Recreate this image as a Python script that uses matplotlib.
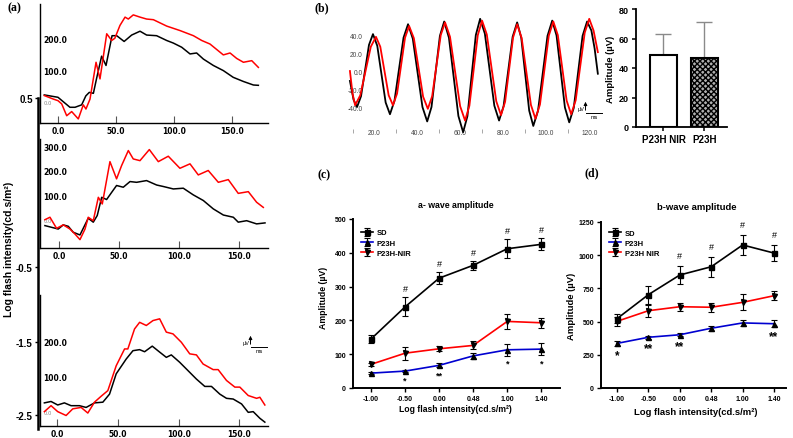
import matplotlib
matplotlib.use('Agg')
import matplotlib.pyplot as plt
from matplotlib.lines import Line2D
from matplotlib.patches import FancyArrowPatch

plt.rcParams['font.family'] = ['Liberation Sans', 'DejaVu Sans']

# ---------------- panel (a): ERG traces, three flash levels (ms, uV) ----------------
top_t_black = [-11.8, 0, 10.3, 14.7, 20.4, 24, 27, 30.5, 33, 37.6, 41.4, 46.6, 50.6, 57, 63.5,
               70.7, 76.4, 85, 93.7, 99.4, 106.6, 113.8, 119.5, 125.3, 133.9, 142.5, 151, 159.8, 168.4, 172.7]
top_v_black = [23, 15.6, -15.6, -15.6, -8, 20, 31, 28, 70, 144, 115, 208, 208, 190, 210,
               222, 210, 208, 193, 185, 172, 151, 154, 135, 115, 99, 78, 65, 54, 53]
top_t_red = [-11.8, -4, 0, 3.2, 7.5, 11.8, 17.5, 21.8, 24.1, 27.6, 32.8, 36.2, 42, 46.3, 49, 53.4,
             57.8, 60.6, 64.9, 70.7, 76.4, 82.2, 93.7, 105.2, 116.7, 123.9, 131, 142.5, 148.3, 154,
             159.8, 167, 172.7]
top_v_red = [21, 10, 5, -5, -42, -29, -52, -8, -21, 10, 125, 73, 214, 193, 200, 240,
             266, 260, 273, 266, 260, 258, 238, 224, 208, 193, 182, 148, 154, 137,
             125, 130, 109]

mid_t_black = [-11.7, -6.1, -0.6, 3.6, 7.8, 11.9, 17.5, 24.4, 28.6, 31.9, 35.6, 39.7, 43.9, 48, 53.6,
               59.2, 64.7, 73, 81.4, 86.9, 95.3, 103.6, 111.9, 120.3, 128.6, 137, 145.3, 149.4, 156.4,
               164.7, 171.7]
mid_v_black = [-23, -30, -37, -20, -26, -50, -61, 7, -9, 18, 92, 83, 112, 140, 133,
               156, 153, 160, 142, 136, 126, 129, 102, 79, 45, 20, 11, -9, -3,
               -16, -12]
mid_t_red = [-11.7, -7.5, -2, 3.6, 9.2, 13.3, 17.5, 21.7, 24.4, 28.6, 32.8, 36.1, 42.5, 48, 52.2,
             57.8, 61.9, 67.5, 75.3, 82.8, 91.1, 100.8, 109.2, 116.1, 124.4, 132.8, 141.1, 149.4,
             157.8, 164.7, 170.3]
mid_v_red = [1, 11, -34, -20, -37, -57, -80, -37, 11, -3, 92, 65, 237, 167, 221,
             282, 248, 241, 286, 237, 259, 210, 228, 183, 201, 153, 164, 108,
             115, 72, 51]

bot_t_black = [-10.7, -5.2, 0.3, 5.8, 11.3, 18.2, 23.7, 30.6, 37.5, 43, 48.5, 56.7, 62.3, 67.8, 71.9,
               78.2, 84.3, 89.8, 93.9, 100.8, 107.7, 114.6, 121.5, 127, 133.9, 139.4, 144.9, 151.8,
               157.3, 161.4, 166.9, 171]
bot_v_black = [25, 29, 19, 25, 17, 17, 12, 25, 27, 50, 108, 150, 174, 177, 171,
               187, 170, 155, 162, 141, 117, 93, 72, 72, 50, 38, 36, 22,
               -2, 0, -19, -30]
bot_t_red = [-10.7, -5.2, 0.3, 7.2, 12.7, 19.6, 25.1, 30.6, 36.1, 41.6, 48.5, 55.4, 58.1, 63.6, 67.8,
             73.3, 78.8, 84.3, 89.8, 95.3, 102.2, 109.1, 114.6, 120.1, 128.4, 132.5, 139.4, 146.3,
             150.4, 157.3, 164.2, 166.9, 171]
bot_v_red = [0, 17, 0, -11, 8, 12, -4, 27, 44, 60, 131, 179, 179, 236, 255,
             246, 260, 265, 227, 222, 198, 165, 162, 136, 120, 120, 89, 70,
             70, 46, 38, 41, 19]

log_labels = ['0.5', '-0.5', '-1.5', '-2.5']

# ---------------- panel (b): flicker traces + bar chart ----------------
flk_t_black = [8.8, 10.5, 12.1, 13.95, 15.8, 17.65, 19.5, 21.5, 23.45, 25.4, 27.4, 29.5, 31.6, 33.7,
               35.8, 38.0, 40.25, 42.5, 44.7, 46.7, 48.65, 50.6, 52.6, 54.8, 57.0, 59.2, 61.4, 63.4,
               65.35, 67.3, 69.3, 71.5, 73.7, 75.9, 78.1, 80.2, 82.3, 84.4, 86.5, 88.4, 90.25, 92.1,
               94.0, 96.2, 98.4, 100.6, 102.8, 104.8, 106.75, 108.7, 110.7, 112.8, 114.85, 116.9,
               119.0, 121.0, 122.5, 124.0]
flk_v_black = [-11, -32, -40, -28, 0.5, 29, 41, 28, -3.5, -35, -48, -33, 2, 37,
               52, 36, -2, -40, -56, -40, -0.5, 39, 55, 37, -6.5, -50, -68, -50,
               -5, 40, 58, 41.5, 1.5, -38.5, -55, -39, -0.5, 38, 54, 37, -3.5, -44,
               -61, -44, -2.5, 39, 56, 39.5, -0.5, -40.5, -57, -41, -1, 39,
               55, 45, 25, -3]
flk_t_red = [8.8, 10.0, 11.2, 13.6, 16.05, 18.5, 20.9, 22.9, 24.85, 26.8, 28.8, 30.7, 32.55, 34.4,
             36.3, 38.5, 40.65, 42.8, 45.0, 47.0, 49.0, 51.0, 53.0, 55.3, 57.65, 60.0, 62.3, 64.3,
             66.25, 68.2, 70.2, 72.4, 74.6, 76.8, 79.0, 80.9, 82.75, 84.6, 86.5, 88.6, 90.75, 92.9,
             95.0, 97.1, 99.15, 101.2, 103.3, 105.4, 107.45, 109.5, 111.6, 113.7, 115.8, 117.9,
             120.0, 122.0, 124.0]
flk_v_red = [0, -25, -38, -27, 0, 27, 38, 27, 0, -27, -38, -25, 6, 37,
             50, 36.5, 4, -28.5, -42, -28, 6, 40, 54, 38, -0.5, -39, -55, -38.7,
             0.5, 39.7, 56, 40.6, 3.5, -33.6, -49, -34.2, 1.5, 37.2, 52, 36.6, -0.5, -37.6,
             -53, -37.2, 1, 39.2, 55, 39.9, 3.5, -32.9, -48, -32.5, 5, 42.5,
             58, 45, 21]

bar_labels = ['P23H NIR', 'P23H']
bar_means = [48.5, 47]
bar_err = [14.5, 24]

# ---------------- panels (c) and (d) ----------------
log_levels = ['-1.00', '-0.50', '0.00', '0.48', '1.00', '1.40']

a_sd = [145, 240, 325, 363, 412, 425]
a_sd_err = [12, 28, 17, 13, 28, 18]
a_p23h = [44, 50, 67, 95, 113, 115]
a_p23h_err = [3, 4, 6, 8, 17, 18]
a_nir = [70, 103, 116, 126, 197, 193]
a_nir_err = [4, 19, 8, 12, 22, 15]
a_hash = ['', '#', '#', '#', '#', '#']
a_star = ['', '*', '**', '', '*', '*']

b_sd = [522, 703, 851, 913, 1077, 1016]
b_sd_err = [32, 68, 68, 75, 75, 63]
b_p23h = [336, 382, 401, 450, 490, 484]
b_p23h_err = [20, 12, 12, 20, 25, 25]
b_nir = [502, 582, 612, 608, 645, 695]
b_nir_err = [35, 45, 30, 35, 60, 35]
b_hash = ['', '', '#', '#', '#', '#']
b_star = ['*', '**', '**', '', '', '**']

W, H = 793, 439
fig = plt.figure(figsize=(W / 100, H / 100), dpi=100)


def box(x0, y0, x1, y1):
    return [x0 / W, 1 - y1 / H, (x1 - x0) / W, (y1 - y0) / H]


def fx(x):
    return x / W


def fy(y):
    return 1 - y / H


def scale_mark(x, y):
    fig.add_artist(Line2D([fx(x), fx(x + 16)], [fy(y), fy(y)], color='black', lw=0.7))
    fig.add_artist(FancyArrowPatch((fx(x), fy(y)), (fx(x), fy(y - 14)), transform=fig.transFigure,
                                   arrowstyle='-|>', mutation_scale=5, lw=0.7, color='black'))
    fig.text(fx(x - 1), fy(y - 2), 'µV', fontsize=4, ha='right', va='bottom')
    fig.text(fx(x + 9), fy(y + 1), 'ms', fontsize=4, ha='center', va='top')


def erg_axes(rect, xlim, ylim, yticks, tk, vk, tr, vr):
    ax = fig.add_axes(box(*rect))
    ax.patch.set_alpha(0)
    ax.plot(tk, vk, color='black', lw=1.1)
    ax.plot(tr, vr, color='red', lw=1.1)
    ax.set_xlim(xlim)
    ax.set_ylim(ylim)
    ax.spines[['top', 'right']].set_visible(False)
    ax.spines[['left', 'bottom']].set_linewidth(1.0)
    ax.set_xticks([0, 50, 100, 150], labels=['0.0', '50.0', '100.0', '150.0'])
    ax.tick_params(axis='x', direction='in', length=5, width=0.8, color='#555', pad=2)
    ax.set_yticks(yticks, labels=[f'{v:.1f}' for v in yticks])
    ax.tick_params(axis='y', length=0, pad=-2.5)
    for lbl in ax.get_xticklabels() + ax.get_yticklabels():
        lbl.set_family('DejaVu Sans')
        lbl.set_fontweight('bold')
        lbl.set_fontsize(5.5)
    for lbl in ax.get_yticklabels():
        lbl.set_ha('left')
    zero = ax.get_yticklabels()[0]
    zero.set_fontsize(3.8)
    zero.set_color('#888')
    zero.set_fontweight('normal')
    return ax


# ===== panel (a) =====
erg_axes((40, 5, 268, 124), (-15.5, 181), (-64.7, 307), [0, 100, 200],
         top_t_black, top_v_black, top_t_red, top_v_red)
erg_axes((40, 140, 268, 249), (-15.8, 174.2), (-114, 329), [0, 100, 200, 300],
         mid_t_black, mid_v_black, mid_t_red, mid_v_red)
erg_axes((40, 296, 268, 427), (-14.3, 173.6), (-41, 333), [0, 100, 200],
         bot_t_black, bot_v_black, bot_t_red, bot_v_red)

axl = fig.add_axes(box(37.5, 0, 39, H))
axl.patch.set_alpha(0)
axl.set_ylim(H, 0)
axl.set_xticks([])
axl.spines[['top', 'right', 'bottom']].set_visible(False)
axl.spines['left'].set_linewidth(1.8)
axl.spines['left'].set_bounds(99, 430)
axl.set_yticks([99, 268, 343, 416], labels=log_labels)
axl.tick_params(axis='y', length=2.5, width=1, pad=1, labelsize=7)
for lbl in axl.get_yticklabels():
    lbl.set_fontweight('bold')
fig.text(fx(9), fy(249), 'Log flash intensity(cd.s/m²)', rotation=90, fontsize=7.5,
         fontweight='bold', ha='center', va='center')
scale_mark(250.5, 348)

# ===== panel (b) traces =====
axb = fig.add_axes(box(331, 10, 600, 130))
axb.patch.set_alpha(0)
axb.plot(flk_t_black, flk_v_black, color='black', lw=1.3, clip_on=False)
axb.plot(flk_t_red, flk_v_red, color='red', lw=1.3, clip_on=False)
axb.set_xlim(0, 125)
axb.set_ylim(-64.4, 68.9)
for s in axb.spines.values():
    s.set_visible(False)
axb.set_xticks([20, 40, 60, 80, 100, 120], labels=['20.0', '40.0', '60.0', '80.0', '100.0', '120.0'])
axb.set_xticks([10, 30, 50, 70, 90, 110], minor=True)
axb.tick_params(axis='x', which='major', length=0, pad=0, labelsize=4.8, labelcolor='#444')
axb.tick_params(axis='x', which='minor', length=3, width=0.6, color='#999', direction='out')
axb.set_yticks([-40, -20, 0, 20, 40], labels=['-40.0', '-20.0', '0.0', '20.0', '40.0'])
axb.tick_params(axis='y', length=0, pad=-23, labelsize=4.8, labelcolor='#444')
scale_mark(585.5, 114)

# ===== panel (b) bars =====
axbar = fig.add_axes(box(636, 10, 727, 128))
xpos = list(range(len(bar_means)))
axbar.errorbar(xpos, bar_means, yerr=[[0] * len(bar_err), bar_err], fmt='none', ecolor='#8a8a8a',
               elinewidth=1.0, capsize=6, capthick=1.0, zorder=1)
bars = axbar.bar(xpos, bar_means, width=0.66, color=['white', '#b0b0b0'], edgecolor='black',
                 linewidth=1.5, zorder=2)
bars[1].set_hatch('xxxxxx')
axbar.set_xlim(-0.67, 1.55)
axbar.set_ylim(0, 80)
axbar.set_yticks([0, 20, 40, 60, 80])
axbar.set_xticks(xpos, labels=bar_labels)
axbar.spines[['top', 'right']].set_visible(False)
axbar.spines[['left', 'bottom']].set_linewidth(1.3)
axbar.tick_params(length=3, width=1.1, pad=2)
axbar.tick_params(axis='y', labelsize=6.5)
axbar.tick_params(axis='x', labelsize=7)
for lbl in axbar.get_xticklabels() + axbar.get_yticklabels():
    lbl.set_fontweight('bold')
axbar.set_ylabel('Amplitude (µV)', fontsize=6.8, fontweight='bold', labelpad=3)


# ===== panels (c), (d) =====
def amp_panel(rect, xlim, ylim, yticks, sd, sd_e, p23, p23_e, nir, nir_e, nir_label,
              hashes, stars, hash_off, star_size, leg_anchor):
    ax = fig.add_axes(box(*rect))
    x = list(range(len(log_levels)))
    ax.errorbar(x, sd, yerr=sd_e, color='black', marker='s', ms=3.6, lw=1.2, ecolor='black',
                elinewidth=0.8, capsize=2.2, capthick=0.8, label='SD', zorder=4)
    ax.errorbar(x, p23, yerr=p23_e, color='#0000d0', marker='^', ms=3.6, mfc='black', mec='black',
                lw=1.2, ecolor='black', elinewidth=0.8, capsize=2.2, capthick=0.8, label='P23H', zorder=3)
    ax.errorbar(x, nir, yerr=nir_e, color='red', marker='v', ms=3.6, mfc='black', mec='black',
                lw=1.2, ecolor='black', elinewidth=0.8, capsize=2.2, capthick=0.8, label=nir_label, zorder=3)
    for i in x:
        if hashes[i]:
            ax.annotate(hashes[i], (i, sd[i] + sd_e[i]), xytext=(0, hash_off), textcoords='offset points',
                        ha='center', va='bottom', fontsize=6.5)
        if stars[i]:
            ax.annotate(stars[i], (i, p23[i] - p23_e[i]), xytext=(0, -2.5), textcoords='offset points',
                        ha='center', va='top', fontsize=star_size, fontweight='bold')
    ax.set_xlim(xlim)
    ax.set_ylim(ylim)
    ax.set_yticks(yticks)
    ax.set_xticks(x, labels=log_levels)
    ax.spines[['top', 'right']].set_visible(False)
    ax.spines[['left', 'bottom']].set_linewidth(1.4)
    ax.tick_params(length=3, width=1.0, pad=2, labelsize=5)
    for lbl in ax.get_xticklabels() + ax.get_yticklabels():
        lbl.set_fontweight('bold')
    ax.legend(loc='upper left', bbox_to_anchor=leg_anchor, frameon=False, borderpad=0, borderaxespad=0,
              handlelength=1.5, handletextpad=0.5, labelspacing=0.35,
              prop={'size': 5.5, 'weight': 'bold'})
    return ax


amp_panel((353, 220, 560, 389), (-0.53, 5.55), (0, 500), [0, 100, 200, 300, 400, 500],
          a_sd, a_sd_err, a_p23h, a_p23h_err, a_nir, a_nir_err, 'P23H-NIR',
          a_hash, a_star, 3, 6.5, (0.04, 0.94))
amp_panel((601, 223, 786, 389), (-0.51, 5.38), (0, 1250), [0, 250, 500, 750, 1000, 1250],
          b_sd, b_sd_err, b_p23h, b_p23h_err, b_nir, b_nir_err, 'P23H NIR',
          b_hash, b_star, 4, 8.5, (0.045, 0.955))

fig.text(fx(456), fy(206), 'a- wave amplitude', fontsize=6.3, fontweight='bold', ha='center', va='center')
fig.text(fx(697), fy(208), 'b-wave amplitude', fontsize=6.8, fontweight='bold', ha='center', va='center')
fig.text(fx(455), fy(410), 'Log flash intensity(cd.s/m²)', fontsize=6.2, fontweight='bold',
         ha='center', va='center')
fig.text(fx(696), fy(413), 'Log flash intensity(cd.s/m²)', fontsize=6.8, fontweight='bold',
         ha='center', va='center')
fig.text(fx(323), fy(298), 'Amplitude (µV)', rotation=90, fontsize=6.3, fontweight='bold',
         ha='center', va='center')
fig.text(fx(572), fy(306), 'Amplitude (µV)', rotation=90, fontsize=6.8, fontweight='bold',
         ha='center', va='center')

# panel letters
for letter, (x, y) in zip(['(a)', '(b)', '(c)', '(d)'], [(14, 8), (322, 8), (324, 175), (592, 173)]):
    fig.text(fx(x), fy(y), letter, family='Liberation Serif', fontsize=8.5, fontweight='bold',
             ha='center', va='center')

fig.savefig('out.png', dpi=100)
